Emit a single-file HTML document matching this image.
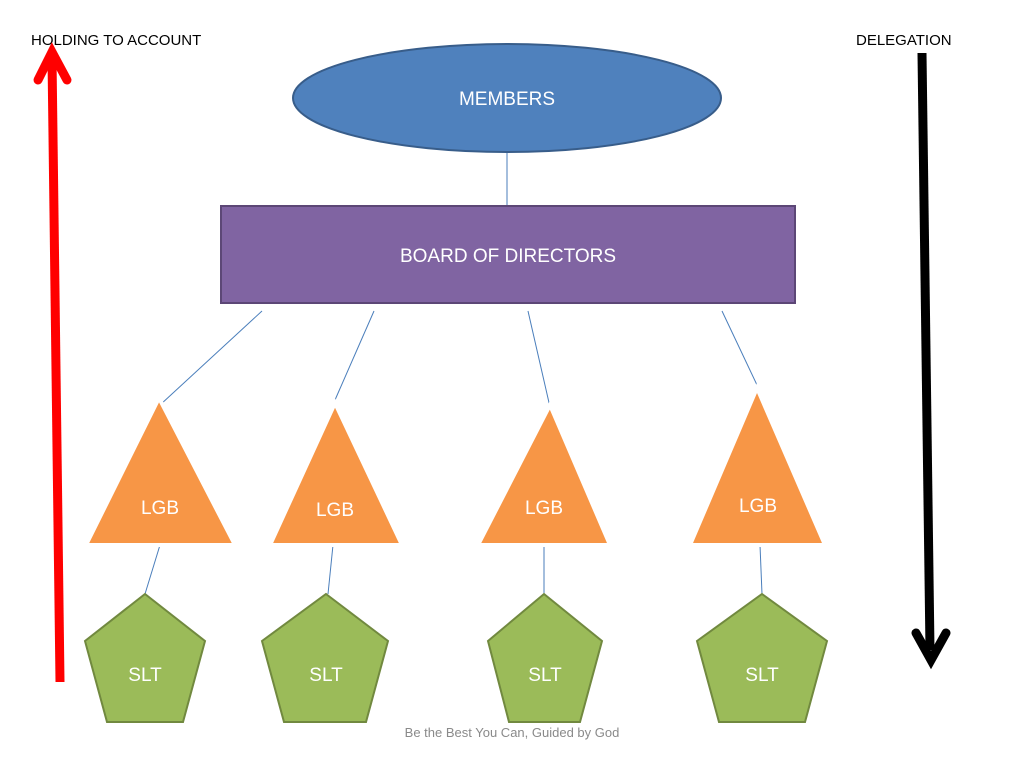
<!DOCTYPE html>
<html><head><meta charset="utf-8"><style>
html,body{margin:0;padding:0;background:#fff;width:1024px;height:768px;overflow:hidden}
svg{display:block}
text{font-family:"Liberation Sans",sans-serif}
</style></head><body>
<svg width="1024" height="768" viewBox="0 0 1024 768" xmlns="http://www.w3.org/2000/svg">
<rect width="1024" height="768" fill="#fff"/>
<text x="31" y="45" font-size="15" fill="#000">HOLDING TO ACCOUNT</text>
<text x="856" y="45" font-size="15" fill="#000">DELEGATION</text>
<line x1="60" y1="682" x2="52" y2="58" stroke="#f00" stroke-width="9"/>
<polyline points="38,80 52,52 67,80" fill="none" stroke="#f00" stroke-width="9" stroke-linecap="round"/>
<line x1="922" y1="53" x2="930" y2="650" stroke="#000" stroke-width="9"/>
<polyline points="916,633 931,660 946,633" fill="none" stroke="#000" stroke-width="9" stroke-linecap="round"/>
<g stroke="#4a7ebb" stroke-width="1" fill="none">
<line x1="507" y1="153" x2="507" y2="206"/>
<line x1="262" y1="311" x2="160" y2="405"/>
<line x1="374" y1="311" x2="335" y2="400"/>
<line x1="528" y1="311" x2="550" y2="407"/>
<line x1="722" y1="311" x2="757" y2="385"/>
<line x1="160" y1="545" x2="145" y2="594"/>
<line x1="333" y1="545" x2="328" y2="594"/>
<line x1="544" y1="545" x2="544" y2="594"/>
<line x1="760" y1="545" x2="762" y2="594"/>
</g>
<ellipse cx="507" cy="98" rx="214" ry="54" fill="#4f81bd" stroke="#385d8a" stroke-width="2"/>
<text x="507" y="105" font-size="19" fill="#fff" text-anchor="middle">MEMBERS</text>
<rect x="221" y="206" width="574" height="97" fill="#8064a2" stroke="#5c4776" stroke-width="2"/>
<text x="508" y="262" font-size="19" fill="#fff" text-anchor="middle">BOARD OF DIRECTORS</text>
<g fill="#f79646" stroke="#fff" stroke-width="4">
<polygon points="159,398 86,545 235,545"/>
<polygon points="335,403 270,545 402,545"/>
<polygon points="550,405 478,545 610,545"/>
<polygon points="757,388 690,545 825,545"/>
</g>
<g font-size="19" fill="#fff" text-anchor="middle">
<text x="160" y="514">LGB</text>
<text x="335" y="516">LGB</text>
<text x="544" y="514">LGB</text>
<text x="758" y="512">LGB</text>
</g>
<g fill="#9bbb59" stroke="#71893f" stroke-width="2">
<polygon points="145,594 205,641 183,722 107,722 85,641"/>
<polygon points="326,594 388,641 366,722 284,722 262,641"/>
<polygon points="544,594 602,641 580,722 509,722 488,641"/>
<polygon points="762,594 827,641 805,722 719,722 697,641"/>
</g>
<g font-size="19" fill="#fff" text-anchor="middle">
<text x="145" y="681">SLT</text>
<text x="326" y="681">SLT</text>
<text x="545" y="681">SLT</text>
<text x="762" y="681">SLT</text>
</g>
<text x="512" y="737" font-size="13" fill="#8a8a8a" text-anchor="middle">Be the Best You Can, Guided by God</text>
</svg>
</body></html>
